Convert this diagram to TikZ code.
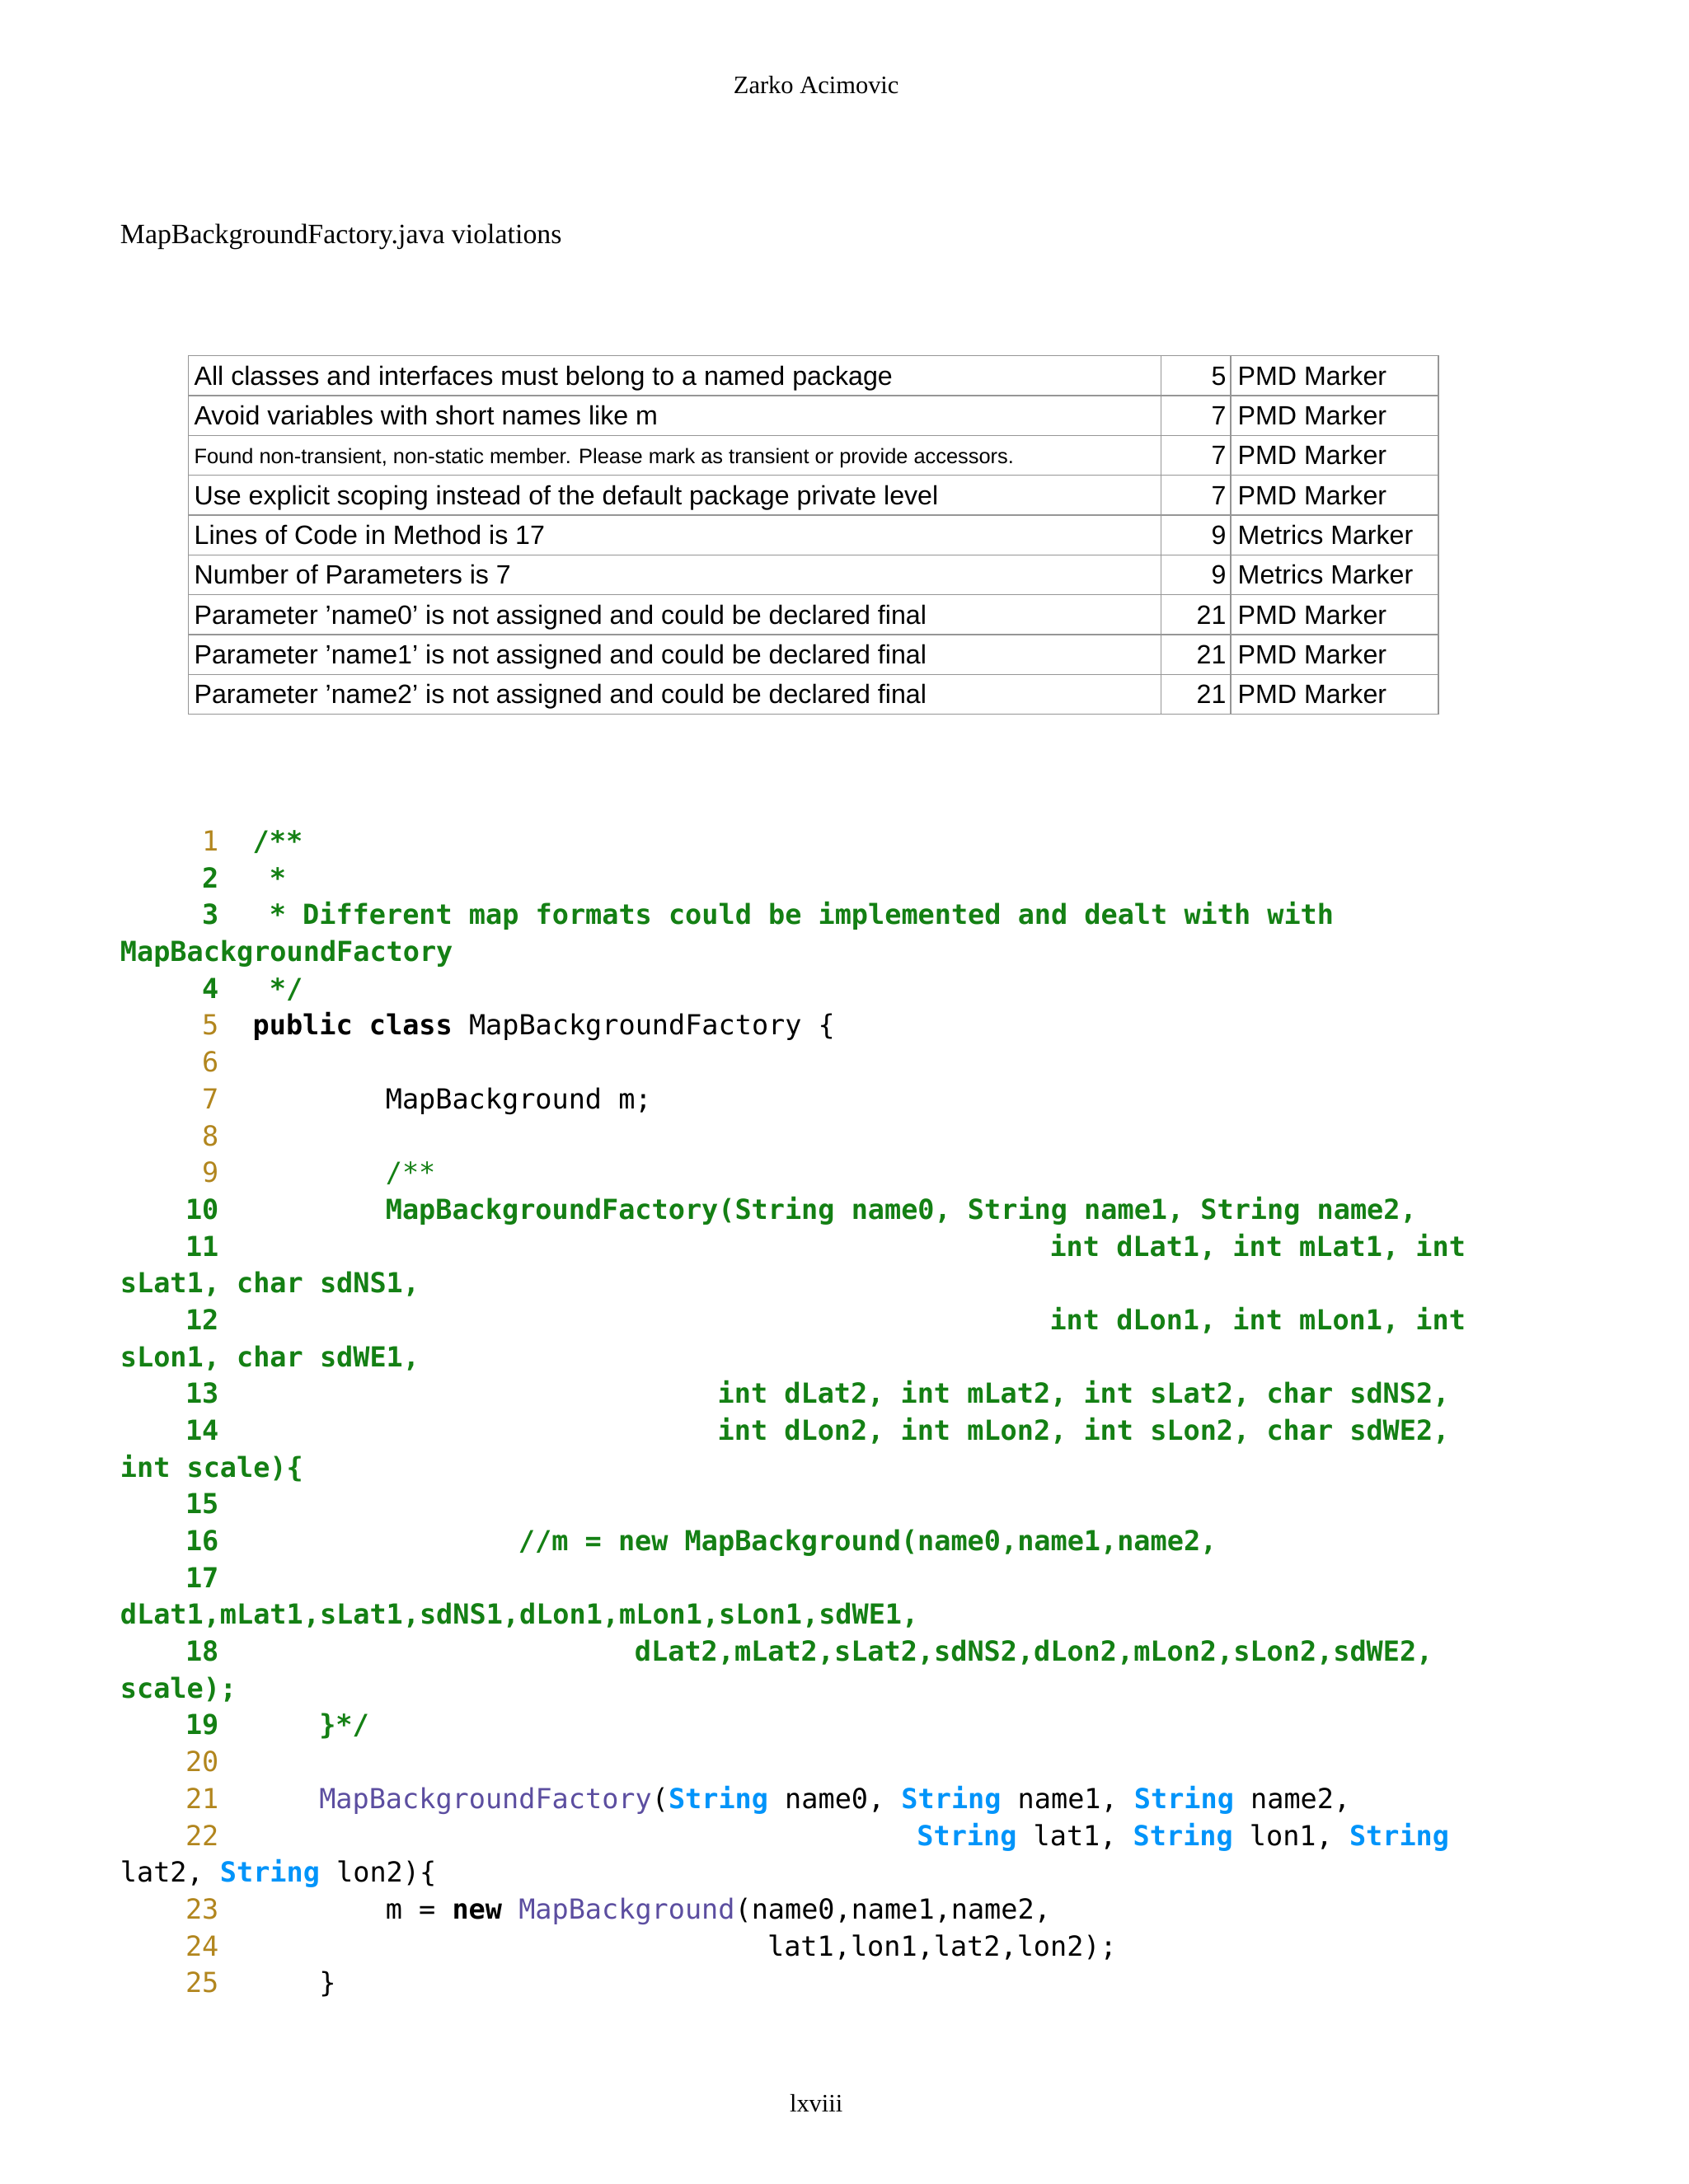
\documentclass[tikz,border=0pt]{standalone}
\usepackage{fontspec}
\setmainfont{Liberation Serif}
\setsansfont{Liberation Sans}
\setmonofont{DejaVu Sans Mono}
\definecolor{cgreen}{RGB}{20,128,20}
\definecolor{cgold}{RGB}{178,134,30}
\definecolor{cblue}{RGB}{0,148,250}
\definecolor{cpurp}{RGB}{92,78,160}
\definecolor{gridc}{RGB}{150,150,150}
\newcommand{\cw}{11.9}
\newcommand{\CL}[4]{\node[code,anchor=base west] (l#1) at ({181+#2*\cw},{610+26.4*#1}) {#4#3};}
\newcommand{\WL}[3]{\node[code,anchor=base west] (w#1) at (86,{610+26.4*#1}) {#3#2};}
\newcommand{\LN}[3]{\node[code,anchor=base east] (n#2) at (157,{610+26.4*#1}) {#3#2};}
\newcommand{\G}{\bfseries\color{cgreen}}
\newcommand{\GN}{\bfseries\color{cgreen}}
\newcommand{\YN}{\color{cgold}}
\newcommand{\bs}[1]{\textcolor{cblue}{\bfseries #1}}
\newcommand{\pu}[1]{\textcolor{cpurp}{#1}}
\begin{document}
\begin{tikzpicture}[x=1pt,y=-1pt,
  code/.style={inner sep=0pt,font=\ttfamily\fontsize{19.8}{20}\selectfont},
  cell/.style={inner sep=0pt,anchor=base west,font=\sffamily\fontsize{19}{20}\selectfont},
  cellr/.style={inner sep=0pt,anchor=base east,font=\sffamily\fontsize{19}{20}\selectfont}]
\useasboundingbox[fill=white] (0,0) rectangle (1210,1565.6);
\node[inner sep=0pt,font=\fontsize{18}{20}\selectfont] (hdr) at (585,61) {Zarko Acimovic};
\node[inner sep=0pt,anchor=west,font=\fontsize{20}{22}\selectfont] (ttl) at (86,170) {MapBackgroundFactory.java violations};
\node[inner sep=0pt,font=\fontsize{18}{20}\selectfont] (pg) at (585,1508) {lxviii};
% table
\draw[gridc,line width=0.8pt] (135,255) rectangle (1031,512);
\foreach \i in {1,...,8} \draw[gridc,line width=0.8pt] (135,{255+28.56*\i}) -- (1031,{255+28.56*\i});
\draw[gridc,line width=0.8pt] (832,255) -- (832,512);
\draw[gridc,line width=0.8pt] (882,255) -- (882,512);
\foreach \t/\n/\m [count=\i from 0] in {
 {All classes and interfaces must belong to a named package}/5/PMD Marker,
 {Avoid variables with short names like m}/7/PMD Marker,
 {}/7/PMD Marker,
 {Use explicit scoping instead of the default package private level}/7/PMD Marker,
 {Lines of Code in Method is 17}/9/Metrics Marker,
 {Number of Parameters is 7}/9/Metrics Marker,
 {Parameter 'name0' is not assigned and could be declared final}/21/PMD Marker,
 {Parameter 'name1' is not assigned and could be declared final}/21/PMD Marker,
 {Parameter 'name2' is not assigned and could be declared final}/21/PMD Marker}{
 \node[cell] (a\i) at (139,{269+28.56*\i+7}) {\t};
 \node[cellr] (b\i) at (879,{269+28.56*\i+7}) {\n};
 \node[cell] (c\i) at (887,{269+28.56*\i+7}) {\m};
}
\node[cell,font=\sffamily\fontsize{15}{16}\selectfont] (a2x) at (139,{269+28.56*2+6}) {Found non-transient, non-static member. Please mark as transient or provide accessors.};
% code
\LN{0}{1}{\YN}\CL{0}{0}{/**}{\G}
\LN{1}{2}{\GN}\CL{1}{1}{*}{\G}
\LN{2}{3}{\GN}\CL{2}{1}{* Different map formats could be implemented and dealt with with}{\G}
\WL{3}{MapBackgroundFactory}{\G}
\LN{4}{4}{\GN}\CL{4}{1}{*/}{\G}
\LN{5}{5}{\YN}\CL{5}{0}{\textbf{public class} MapBackgroundFactory \{}{}
\LN{6}{6}{\YN}
\LN{7}{7}{\YN}\CL{7}{8}{MapBackground m;}{}
\LN{8}{8}{\YN}
\LN{9}{9}{\YN}\CL{9}{8}{/**}{\color{cgreen}}
\LN{10}{10}{\GN}\CL{10}{8}{MapBackgroundFactory(String name0, String name1, String name2,}{\G}
\LN{11}{11}{\GN}\CL{11}{48}{int dLat1, int mLat1, int}{\G}
\WL{12}{sLat1, char sdNS1,}{\G}
\LN{13}{12}{\GN}\CL{13}{48}{int dLon1, int mLon1, int}{\G}
\WL{14}{sLon1, char sdWE1,}{\G}
\LN{15}{13}{\GN}\CL{15}{28}{int dLat2, int mLat2, int sLat2, char sdNS2,}{\G}
\LN{16}{14}{\GN}\CL{16}{28}{int dLon2, int mLon2, int sLon2, char sdWE2,}{\G}
\WL{17}{int scale)\{}{\G}
\LN{18}{15}{\GN}
\LN{19}{16}{\GN}\CL{19}{16}{//m = new MapBackground(name0,name1,name2,}{\G}
\LN{20}{17}{\GN}
\WL{21}{dLat1,mLat1,sLat1,sdNS1,dLon1,mLon1,sLon1,sdWE1,}{\G}
\LN{22}{18}{\GN}\CL{22}{23}{dLat2,mLat2,sLat2,sdNS2,dLon2,mLon2,sLon2,sdWE2,}{\G}
\WL{23}{scale);}{\G}
\LN{24}{19}{\GN}\CL{24}{4}{\}*/}{\G}
\LN{25}{20}{\YN}
\LN{26}{21}{\YN}\CL{26}{4}{\pu{MapBackgroundFactory}(\bs{String} name0, \bs{String} name1, \bs{String} name2,}{}
\LN{27}{22}{\YN}\CL{27}{40}{\bs{String} lat1, \bs{String} lon1, \bs{String}}{}
\WL{28}{lat2, \bs{String} lon2)\{}{}
\LN{29}{23}{\YN}\CL{29}{8}{m = \textbf{new} \pu{MapBackground}(name0,name1,name2,}{}
\LN{30}{24}{\YN}\CL{30}{31}{lat1,lon1,lat2,lon2);}{}
\LN{31}{25}{\YN}\CL{31}{4}{\}}{}
\end{tikzpicture}
\end{document}
